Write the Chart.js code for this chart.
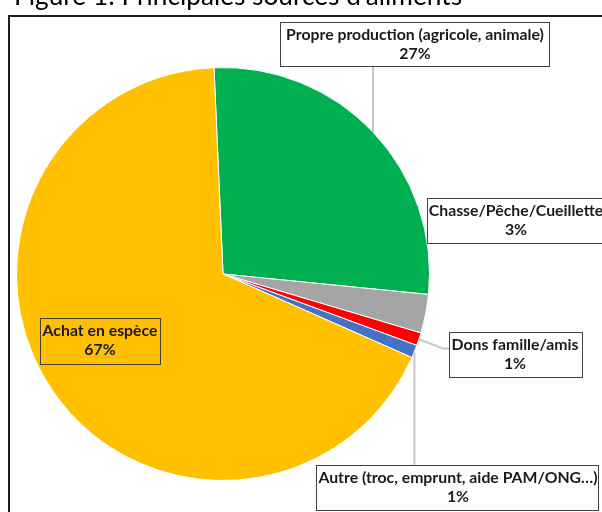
<!DOCTYPE html>
<html lang="fr">
<head>
<meta charset="UTF-8">
<script src="https://cdn.jsdelivr.net/npm/chart.js"></script>
<title>Principales sources d'aliments</title>
<style>
  body { margin: 0; background: #fff; }
  #chart { width: 602px; height: 512px; }
</style>
</head>
<body>
<div id="chart">
  <canvas id="sourcesChart" width="602" height="512"></canvas>
</div>
<script>
  // sources d'aliments, dans le sens des aiguilles d'une montre depuis le haut
  const sources = [
    'Propre production (agricole, animale)',
    'Chasse/Pêche/Cueillette',
    'Dons famille/amis',
    'Autre (troc, emprunt, aide PAM/ONG…)',
    'Achat en espèce'
  ]
  const parts = [27, 3, 1, 1, 67]
  const couleurs = ['#00B050', '#A5A5A5', '#FF0000', '#4472C4', '#FFC000']

  // emplacement des étiquettes (x, y, largeur, hauteur, centre du texte) et trait de rappel
  const etiquettes = [
    { x: 280, y: 22, w: 269, h: 44, tx: 415, fond: '#fff', trait: 'haut' },
    { x: 427, y: 198, w: 190, h: 45, tx: 516, fond: '#fff', trait: null },
    { x: 449, y: 332, w: 133, h: 45, tx: 515, fond: '#fff', trait: 'gauche' },
    { x: 316, y: 465, w: 282, h: 45, tx: 458, fond: '#fff', trait: 'bas' },
    { x: 40, y: 318, w: 120, h: 46, tx: 100, fond: null, trait: null }
  ]

  const police = 'bold 15.8px Lato'

  const habillage = {
    id: 'habillage',
    beforeDraw(chart) {
      const c = chart.ctx
      c.save()
      // titre (coupé en haut) et cadre
      c.fillStyle = '#000'
      c.font = '27px Lato'
      c.textBaseline = 'alphabetic'
      c.textAlign = 'left'
      c.fillText("Figure 1: Principales sources d'aliments", 14, 5, 448)
      c.strokeStyle = '#1f1f1f'
      c.lineWidth = 2
      c.strokeRect(9, 16, 800, 700)
      c.restore()
    },
    afterDraw(chart) {
      const c = chart.ctx
      const arcs = chart.getDatasetMeta(0).data
      c.save()
      // traits de rappel partant du milieu de l'arc
      c.strokeStyle = '#c8c8c8'
      c.lineWidth = 2
      etiquettes.forEach((e, i) => {
        if (!e.trait) return
        const a = arcs[i]
        const mid = (a.startAngle + a.endAngle) / 2
        const px = a.x + Math.cos(mid) * a.outerRadius
        const py = a.y + Math.sin(mid) * a.outerRadius
        c.beginPath()
        c.moveTo(px, py)
        if (e.trait === 'haut') c.lineTo(px, e.y + e.h)
        if (e.trait === 'bas') c.lineTo(px, e.y)
        if (e.trait === 'gauche') {
          c.lineTo(e.x - 6, e.y + e.h / 2 - 6)
          c.lineTo(e.x, e.y + e.h / 2 - 6)
        }
        c.stroke()
      })
      // étiquettes
      etiquettes.forEach((e, i) => {
        if (e.fond) {
          c.fillStyle = e.fond
          c.fillRect(e.x, e.y, e.w, e.h)
        }
        c.strokeStyle = '#404040'
        c.lineWidth = 1
        c.strokeRect(e.x + 0.5, e.y + 0.5, e.w, e.h)
        c.fillStyle = '#1a1a1a'
        c.font = police
        c.textAlign = 'center'
        c.textBaseline = 'middle'
        c.fillText(sources[i], e.tx, e.y + 13)
        c.fillText(parts[i] + '%', e.tx, e.y + 32)
      })
      c.restore()
    }
  }

  const ctx = document.getElementById('sourcesChart').getContext('2d')
  const sourcesChart = new Chart(ctx, {
    type: 'pie',
    data: {
      labels: sources,
      datasets: [{
        data: parts,
        backgroundColor: couleurs,
        borderColor: '#fff',
        borderWidth: 1
      }]
    },
    options: {
      responsive: false,
      animation: false,
      rotation: -2.5,
      layout: { padding: { left: 16, right: 172, top: 67, bottom: 31 } },
      plugins: {
        legend: { display: false },
        tooltip: { enabled: false }
      }
    },
    plugins: [habillage]
  })
</script>
</body>
</html>
